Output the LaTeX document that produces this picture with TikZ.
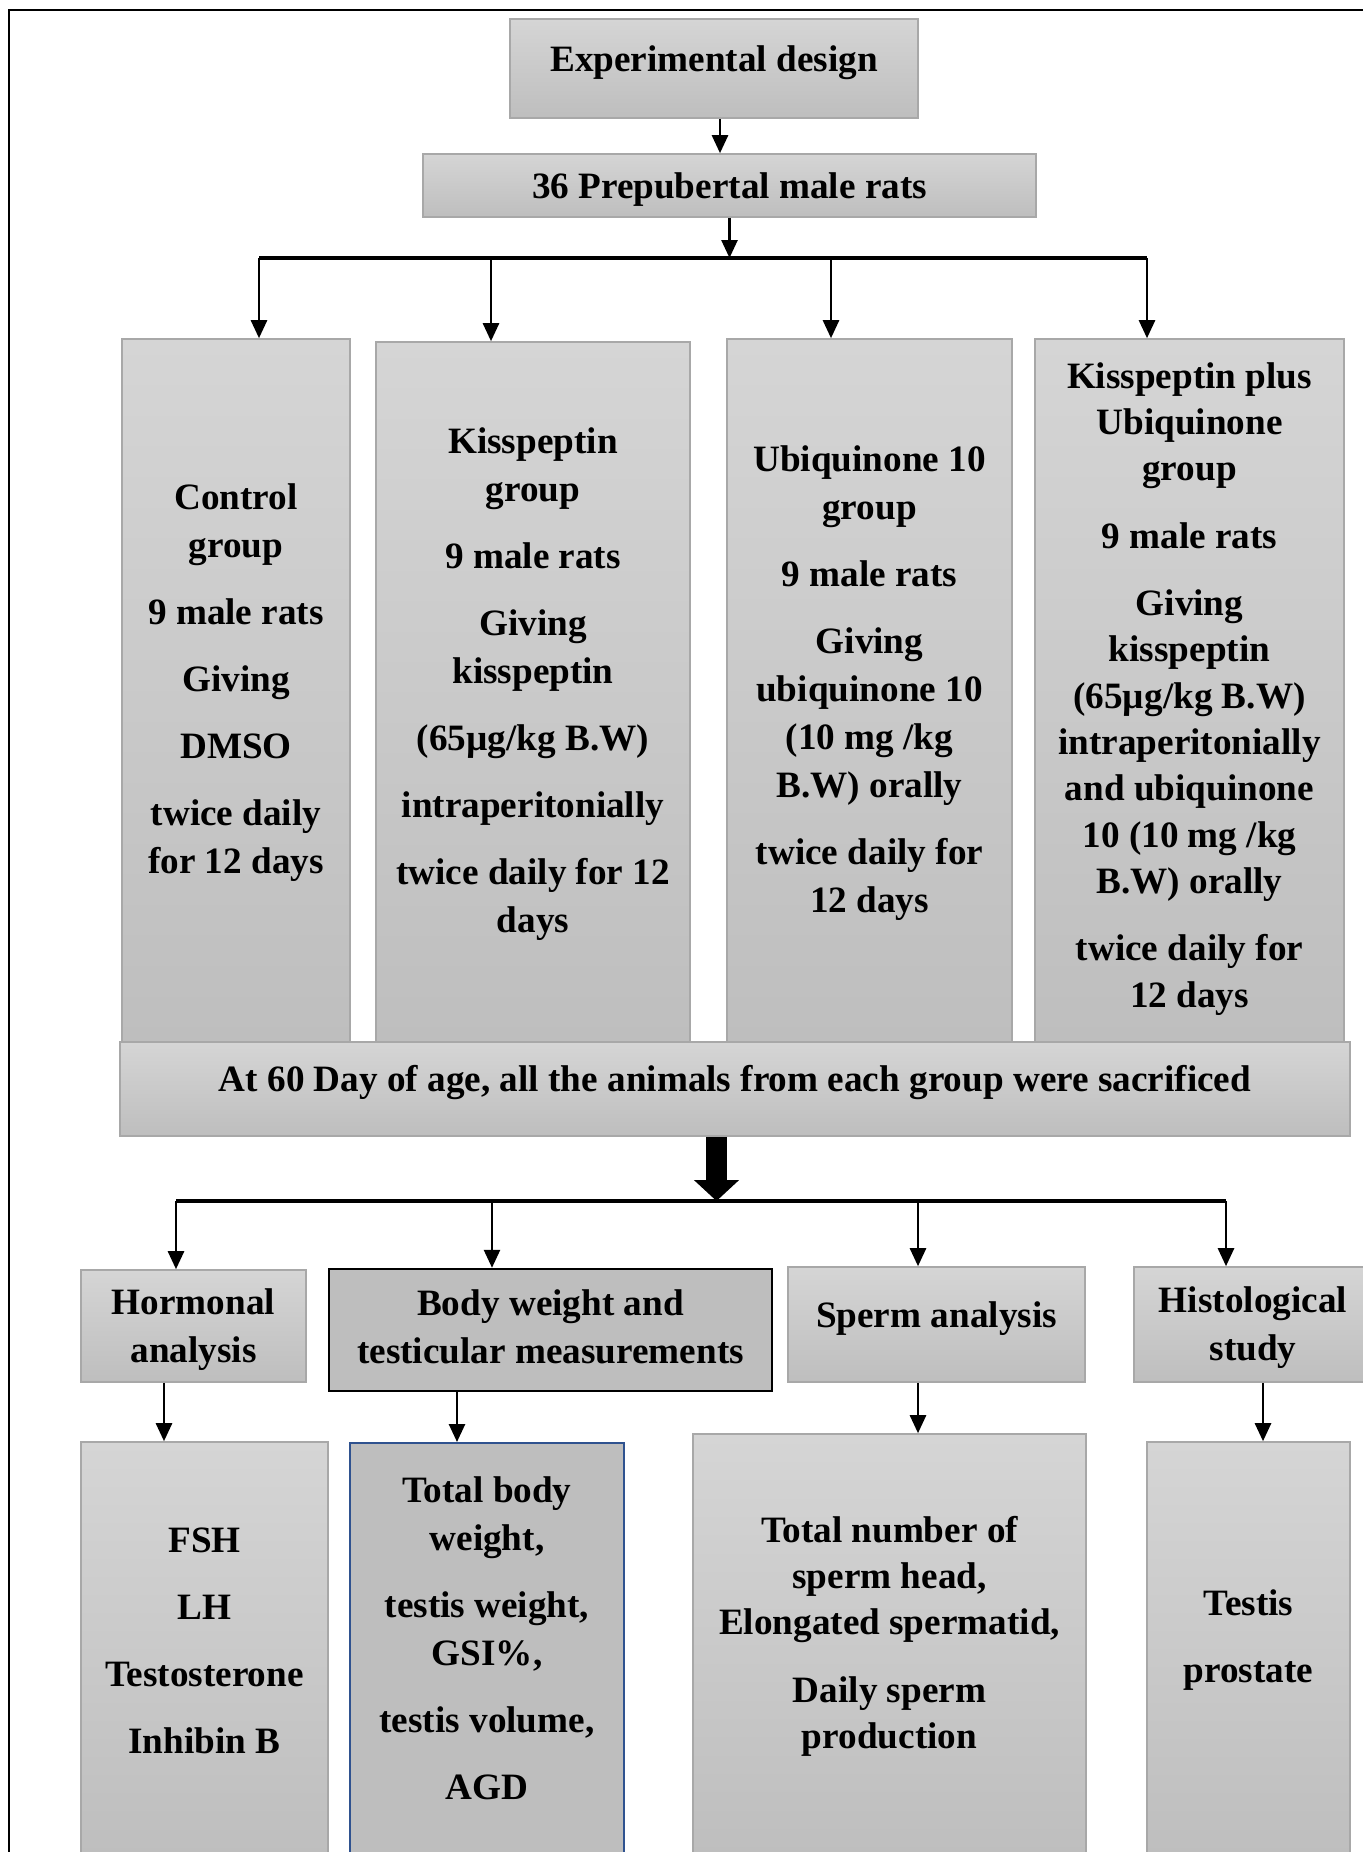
\documentclass[tikz,border=0pt]{standalone}
\usepackage{fontspec}
\setmainfont{Liberation Serif}
\usetikzlibrary{arrows.meta}
\definecolor{box-top}{RGB}{213,213,213}
\definecolor{box-bottom}{RGB}{190,190,190}
\definecolor{box-line}{RGB}{168,168,168}
\definecolor{blue-line}{RGB}{47,82,143}

\begin{document}
\begin{tikzpicture}[
    x=0.5pt, y=-0.5pt,
    every node/.style={font=\fontsize{18.6}{24}\selectfont\bfseries, align=center},
    tight/.style={font=\fontsize{18.6}{23.2}\selectfont\bfseries},
    lift/.style={text depth=#1},
    greybox/.style={rectangle, draw=box-line, line width=0.8pt, top color=box-top, bottom color=box-bottom, inner sep=0pt},
    darkbox/.style={rectangle, fill=box-bottom, inner sep=0pt},
    conn/.style={line width=1.3pt, -{Triangle[length=9pt,width=8pt]}},
    bar/.style={line width=2pt},
    fat/.style={line width=10.5pt, -{Triangle[length=10.5pt,width=22pt]}}
]
\useasboundingbox (0,0) rectangle (1363,1852);
\clip (0,0) rectangle (1363,1852);
\draw[line width=1pt] (9,10) rectangle (1400,1900);

\node[greybox, lift=10pt, minimum width=204pt, minimum height=49.5pt] (title) at (714,68.5) {Experimental design};
\node[greybox, lift=0.4pt, minimum width=306.5pt, minimum height=31.5pt] (rats) at (729.5,185.5) {36 Prepubertal male rats};

\node[greybox, lift=11.6pt, minimum width=114pt, minimum height=351.5pt] (g1) at (236,690.5)
    {Control\\ group\\[9.5pt] 9 male rats\\[9.5pt] Giving\\[9.5pt] DMSO\\[9.5pt] twice daily\\ for 12 days};
\node[greybox, lift=12.2pt, minimum width=157pt, minimum height=350pt] (g2) at (533,692)
    {Kisspeptin\\ group\\[9.5pt] 9 male rats\\[9.5pt] Giving\\ kisspeptin\\[9.5pt] (65µg/kg B.W)\\[9.5pt] intraperitonially\\[9.5pt] twice daily for 12\\ days};
\node[greybox, lift=11pt, minimum width=142.5pt, minimum height=351.5pt] (g3) at (869.5,690.5)
    {Ubiquinone 10\\ group\\[9.5pt] 9 male rats\\[9.5pt] Giving\\ ubiquinone 10\\ (10 mg /kg\\ B.W) orally\\[9.5pt] twice daily for\\ 12 days};
\node[greybox, tight, lift=5.8pt, minimum width=154.5pt, minimum height=351.5pt] (g4) at (1189.5,690.5)
    {Kisspeptin plus\\ Ubiquinone\\ group\\[10.4pt] 9 male rats\\[10.4pt] Giving\\ kisspeptin\\ (65µg/kg B.W)\\ intraperitonially\\ and ubiquinone\\ 10 (10 mg /kg\\ B.W) orally\\[10.4pt] twice daily for\\ 12 days};

\node[greybox, lift=11pt, minimum width=615pt, minimum height=47pt] (sac) at (735,1089)
    {At 60 Day of age, all the animals from each group were sacrificed};

\node[greybox, lift=0.4pt, minimum width=112.5pt, minimum height=56pt] (horm) at (193.5,1326) {Hormonal\\ analysis};
\node[darkbox, lift=3.6pt, draw=black, line width=1.2pt, minimum width=221.5pt, minimum height=61pt] (body) at (550.5,1330)
    {Body weight and\\ testicular measurements};
\node[greybox, lift=10pt, minimum width=148.5pt, minimum height=57.5pt] (sperm) at (936.5,1324.5) {Sperm analysis};
\node[greybox, lift=1pt, minimum width=119pt, minimum height=57.5pt] (histo) at (1253,1324.5) {Histological\\ study};

\node[greybox, lift=8.2pt, minimum width=123.5pt, minimum height=207pt] (fsh) at (204.5,1649)
    {FSH\\[9.5pt] LH\\[9.5pt] Testosterone\\[9.5pt] Inhibin B};
\node[darkbox, lift=11.8pt, draw=blue-line, line width=1pt, minimum width=137pt, minimum height=206.5pt] (tbw) at (487,1649.5)
    {Total body\\ weight,\\[9.5pt] testis weight,\\ GSI\%,\\[9.5pt] testis volume,\\[9.5pt] AGD};
\node[greybox, tight, lift=12.8pt, minimum width=196.5pt, minimum height=211pt] (tsp) at (889.5,1645)
    {Total number of\\ sperm head,\\ Elongated spermatid,\\[10.4pt] Daily sperm\\ production};
\node[greybox, lift=13.4pt, minimum width=101.5pt, minimum height=207pt] (tst) at (1248.5,1649)
    {Testis\\[9.5pt] prostate};

\coordinate (a0) at (720,120);
\coordinate (s1) at (259,258);
\coordinate (s2) at (491,258);
\coordinate (s3) at (831,258);
\coordinate (s4) at (1147,258);
\coordinate (t0) at (716.5,1201);
\coordinate (t1) at (176,1201);
\coordinate (t2) at (492,1201);
\coordinate (t3) at (918,1201);
\coordinate (t4) at (1226,1201);
\coordinate (d1) at (164,1400);
\coordinate (d2) at (457,1400);
\coordinate (d3) at (918,1400);
\coordinate (d4) at (1263,1400);

\draw[conn] (a0 |- title.south) -- (a0 |- rats.north);
\draw[conn] (rats.south) -- (rats.south |- s1);
\draw[bar] (s1) -- (s4);
\draw[conn] (s1) -- (s1 |- g1.north);
\draw[conn] (s2) -- (s2 |- g2.north);
\draw[conn] (s3) -- (s3 |- g3.north);
\draw[conn] (s4) -- (s4 |- g4.north);

\draw[fat] (t0 |- sac.south) -- (t0);
\draw[bar] (t1) -- (t4);
\draw[conn] (t1) -- (t1 |- horm.north);
\draw[conn] (t2) -- (t2 |- body.north);
\draw[conn] (t3) -- (t3 |- sperm.north);
\draw[conn] (t4) -- (t4 |- histo.north);

\draw[conn] (d1 |- horm.south) -- (d1 |- fsh.north);
\draw[conn] (d2 |- body.south) -- (d2 |- tbw.north);
\draw[conn] (d3 |- sperm.south) -- (d3 |- tsp.north);
\draw[conn] (d4 |- histo.south) -- (d4 |- tst.north);
\end{tikzpicture}
\end{document}
